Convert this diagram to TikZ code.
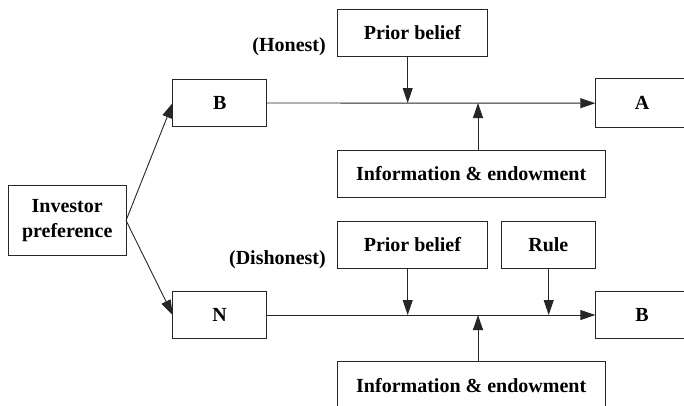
\documentclass[tikz,border=0pt]{standalone}
\usepackage{fontspec}
\setmainfont{Liberation Serif}
\usetikzlibrary{arrows.meta}
\begin{document}
\begin{tikzpicture}[x=1pt,y=-1pt,
  every node/.style={font=\fontsize{20}{24.3}\selectfont\bfseries},
  box/.style={draw=black!85,line width=0.9pt,inner sep=0pt,outer sep=0pt,align=center},
  lab/.style={inner sep=0pt},
  arr/.style={draw=black!85,line width=0.9pt,-{Triangle[length=15pt,width=10pt]}},
  ln/.style={draw=black!85,line width=0.9pt}]
\useasboundingbox (0,0) rectangle (684,405);
\clip (0,0) rectangle (684,405);
% nodes
\node[box,minimum width=117.7pt,minimum height=69.6pt] (inv) at (67.2,220.5) {Investor\\preference};
\node[box,minimum width=94pt,minimum height=47.4pt] (b1) at (219.7,103) {B};
\node[box,minimum width=93.4pt,minimum height=49pt] (a1) at (642,103.2) {A};
\node[box,minimum width=150.7pt,minimum height=46.7pt] (pb1) at (412.4,32.7) {Prior belief};
\node[box,minimum width=268.3pt,minimum height=47.3pt] (ie1) at (471.2,174) {Information \& endowment};
\node[lab,anchor=east] (hon) at (326,46.7) {(Honest)};
\node[box,minimum width=150.7pt,minimum height=46.7pt] (pb2) at (412.4,244.7) {Prior belief};
\node[box,minimum width=94pt,minimum height=47pt] (rule) at (548.3,244.5) {Rule};
\node[box,minimum width=94pt,minimum height=47.4pt] (n) at (219.7,315) {N};
\node[box,minimum width=93.4pt,minimum height=47.4pt] (b2) at (642,315) {B};
\node[box,minimum width=268.3pt,minimum height=47pt] (ie2) at (471.2,385.3) {Information \& endowment};
\node[lab,anchor=east] (dis) at (326,259.3) {(Dishonest)};
% junction coordinates
\coordinate (j1) at (407.7,103);
\coordinate (k1) at (478,103);
\coordinate (j2) at (407.7,315);
\coordinate (k2) at (478,315);
\coordinate (r2) at (548.7,315);
% connectors
\draw[arr] (inv.east) -- (b1.west);
\draw[arr] (inv.east) -- (n.west);
\draw[arr] (b1.east) -- (a1.west);
\draw[arr] (n.east) -- (b2.west);
\draw[arr] (pb1.south -| j1) -- (j1);
\draw[arr] (ie1.north -| k1) -- (k1);
\draw[arr] (pb2.south -| j2) -- (j2);
\draw[arr] (ie2.north -| k2) -- (k2);
\draw[arr] (rule.south -| r2) -- (r2);
\end{tikzpicture}
\end{document}
